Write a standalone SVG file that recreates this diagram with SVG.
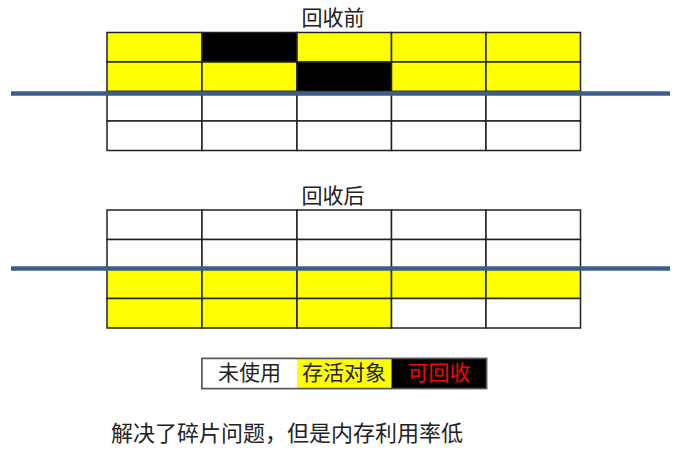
<svg xmlns="http://www.w3.org/2000/svg" width="678" height="452" viewBox="0 0 678 452">
<style>
.c{stroke:#222;stroke-width:1.5}
.w{fill:#fff}
.y{fill:#ffff00}
.k{fill:#000}
.t{font-family:"Liberation Sans","Noto Sans CJK SC",sans-serif;fill:#222}
.sep{stroke:#3b5e8e;stroke-width:4.5;fill:none}
</style>
<rect width="678" height="452" fill="#fff"/>
<g id="before">
<text class="t" x="333" y="25" font-size="21" text-anchor="middle">回收前</text>
<rect class="c y" x="107" y="32.5" width="95" height="29.5"/>
<rect class="c k" x="202" y="32.5" width="95" height="29.5"/>
<rect class="c y" x="297" y="32.5" width="94.5" height="29.5"/>
<rect class="c y" x="391.5" y="32.5" width="94.5" height="29.5"/>
<rect class="c y" x="486" y="32.5" width="94.5" height="29.5"/>
<rect class="c y" x="107" y="62" width="95" height="29.5"/>
<rect class="c y" x="202" y="62" width="95" height="29.5"/>
<rect class="c k" x="297" y="62" width="94.5" height="29.5"/>
<rect class="c y" x="391.5" y="62" width="94.5" height="29.5"/>
<rect class="c y" x="486" y="62" width="94.5" height="29.5"/>
<rect class="c w" x="107" y="91.5" width="95" height="29.5"/>
<rect class="c w" x="202" y="91.5" width="95" height="29.5"/>
<rect class="c w" x="297" y="91.5" width="94.5" height="29.5"/>
<rect class="c w" x="391.5" y="91.5" width="94.5" height="29.5"/>
<rect class="c w" x="486" y="91.5" width="94.5" height="29.5"/>
<rect class="c w" x="107" y="121" width="95" height="29.5"/>
<rect class="c w" x="202" y="121" width="95" height="29.5"/>
<rect class="c w" x="297" y="121" width="94.5" height="29.5"/>
<rect class="c w" x="391.5" y="121" width="94.5" height="29.5"/>
<rect class="c w" x="486" y="121" width="94.5" height="29.5"/>
</g>
<g id="after">
<text class="t" x="333" y="203" font-size="21" text-anchor="middle">回收后</text>
<rect class="c w" x="107" y="210" width="95" height="29.5"/>
<rect class="c w" x="202" y="210" width="95" height="29.5"/>
<rect class="c w" x="297" y="210" width="94.5" height="29.5"/>
<rect class="c w" x="391.5" y="210" width="94.5" height="29.5"/>
<rect class="c w" x="486" y="210" width="94.5" height="29.5"/>
<rect class="c w" x="107" y="239.5" width="95" height="29.5"/>
<rect class="c w" x="202" y="239.5" width="95" height="29.5"/>
<rect class="c w" x="297" y="239.5" width="94.5" height="29.5"/>
<rect class="c w" x="391.5" y="239.5" width="94.5" height="29.5"/>
<rect class="c w" x="486" y="239.5" width="94.5" height="29.5"/>
<rect class="c y" x="107" y="269" width="95" height="29.5"/>
<rect class="c y" x="202" y="269" width="95" height="29.5"/>
<rect class="c y" x="297" y="269" width="94.5" height="29.5"/>
<rect class="c y" x="391.5" y="269" width="94.5" height="29.5"/>
<rect class="c y" x="486" y="269" width="94.5" height="29.5"/>
<rect class="c y" x="107" y="298.5" width="95" height="29.5"/>
<rect class="c y" x="202" y="298.5" width="95" height="29.5"/>
<rect class="c y" x="297" y="298.5" width="94.5" height="29.5"/>
<rect class="c w" x="391.5" y="298.5" width="94.5" height="29.5"/>
<rect class="c w" x="486" y="298.5" width="94.5" height="29.5"/>
</g>
<g id="separators">
<line class="sep" x1="11" y1="93.5" x2="670" y2="93.5"/>
<line class="sep" x1="11" y1="268.5" x2="670" y2="268.5"/>
</g>
<g id="legend">
<rect x="202" y="358.5" width="284.5" height="30" fill="none" stroke="#555" stroke-width="1.5"/>
<rect x="202" y="358.5" width="95" height="30" fill="#fff"/>
<rect x="297" y="358.5" width="94.5" height="30" fill="#ffff00"/>
<rect x="391.5" y="358.5" width="95" height="30" fill="#000"/>
<rect x="202" y="358.5" width="284.5" height="30" fill="none" stroke="#555" stroke-width="1.5"/>
<text class="t" x="249.5" y="380" font-size="21" text-anchor="middle">未使用</text>
<text class="t" x="344" y="380" font-size="21" text-anchor="middle">存活对象</text>
<text x="439" y="380" font-size="21" text-anchor="middle" font-family="Liberation Sans,'Noto Sans CJK SC',sans-serif" fill="#ff0000">可回收</text>
</g>
<g id="note">
<text class="t" x="111" y="441" font-size="22">解决了碎片问题，但是内存利用率低</text>
</g>
</svg>
